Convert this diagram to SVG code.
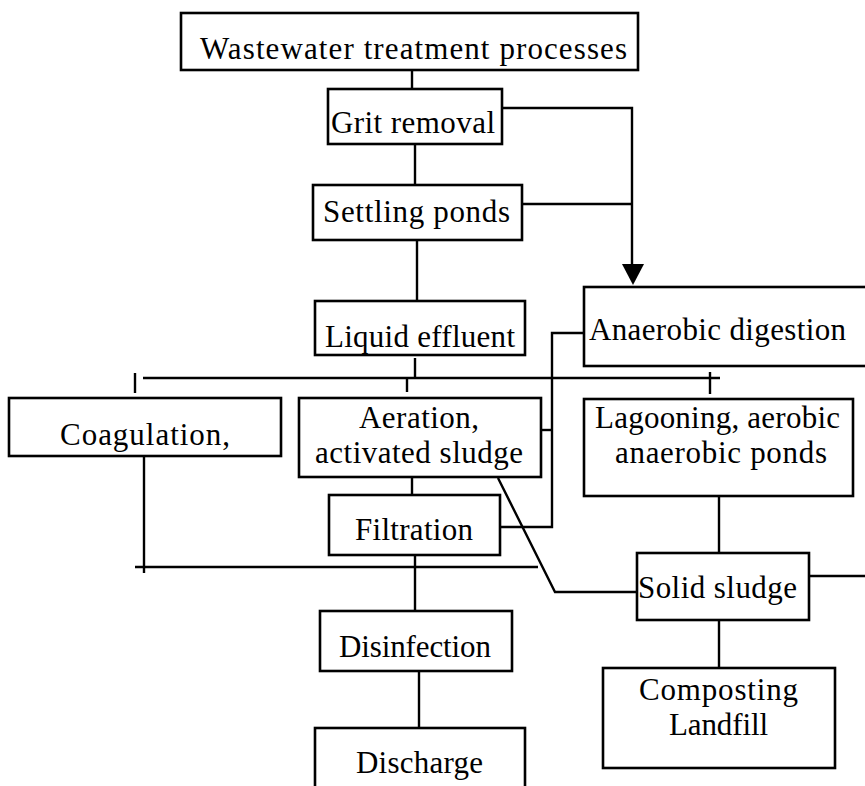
<svg xmlns="http://www.w3.org/2000/svg" width="865" height="786" viewBox="0 0 865 786">
<style>
.box{fill:#fff;stroke:#000;stroke-width:2.6}
.ln{fill:none;stroke:#000;stroke-width:2.4}
text{font-family:"Liberation Serif","Times New Roman",serif;font-size:31px;fill:#000}
</style>
<rect width="865" height="786" fill="#fff"/>
<g id="connectors">
  <line class="ln" x1="412" y1="70" x2="412" y2="89"/>
  <polyline class="ln" points="502,108 632,108 632,266"/>
  <polygon points="622,264 644,264 633,285" fill="#000"/>
  <line class="ln" x1="415" y1="144" x2="415" y2="185"/>
  <line class="ln" x1="522" y1="204" x2="632" y2="204"/>
  <line class="ln" x1="417" y1="240" x2="417" y2="301"/>
  <line class="ln" x1="415" y1="358" x2="415" y2="378"/>
  <line class="ln" x1="407" y1="378" x2="407" y2="392"/>
  <line class="ln" x1="143" y1="378" x2="720" y2="378"/>
  <line class="ln" x1="135" y1="373" x2="135" y2="393"/>
  <line class="ln" x1="710" y1="372" x2="710" y2="394"/>
  <polyline class="ln" points="584,333 552,333 552,527 500,527"/>
  <line class="ln" x1="535" y1="430" x2="552" y2="430"/>
  <line class="ln" x1="412" y1="477" x2="412" y2="495"/>
  <line class="ln" x1="144" y1="456" x2="144" y2="573"/>
  <line class="ln" x1="135" y1="567" x2="538" y2="567"/>
  <polyline class="ln" points="498,478 555,592 637,592"/>
  <line class="ln" x1="415" y1="555" x2="415" y2="611"/>
  <line class="ln" x1="419" y1="671" x2="419" y2="732"/>
  <line class="ln" x1="719" y1="496" x2="719" y2="553"/>
  <line class="ln" x1="809" y1="576" x2="865" y2="576"/>
  <line class="ln" x1="719" y1="610" x2="719" y2="668"/>
</g>
<g id="n-wastewater">
  <rect class="box" x="181" y="13" width="457" height="57"/>
  <text x="200" y="59" textLength="427" lengthAdjust="spacing">Wastewater treatment processes</text>
</g>
<g id="n-grit">
  <rect class="box" x="328" y="89" width="174" height="55"/>
  <text x="331" y="133" textLength="164" lengthAdjust="spacing">Grit removal</text>
</g>
<g id="n-settling">
  <rect class="box" x="313" y="185" width="209" height="55"/>
  <text x="323" y="222" textLength="187" lengthAdjust="spacing">Settling ponds</text>
</g>
<g id="n-liquid">
  <rect class="box" x="315" y="301" width="210" height="54"/>
  <text x="325" y="347" textLength="190" lengthAdjust="spacing">Liquid effluent</text>
</g>
<g id="n-anaerobic">
  <rect class="box" x="584" y="287" width="300" height="79"/>
  <text x="589" y="340" textLength="257" lengthAdjust="spacing">Anaerobic digestion</text>
</g>
<g id="n-coagulation">
  <rect class="box" x="9" y="398" width="272" height="58"/>
  <text x="60" y="445" textLength="170" lengthAdjust="spacing">Coagulation,</text>
</g>
<g id="n-aeration">
  <rect class="box" x="299" y="398" width="242" height="79"/>
  <text x="359" y="428" textLength="120" lengthAdjust="spacing">Aeration,</text>
  <text x="315" y="463" textLength="208" lengthAdjust="spacing">activated sludge</text>
</g>
<g id="n-lagooning">
  <rect class="box" x="584" y="399" width="269" height="97"/>
  <text x="595" y="428" textLength="245" lengthAdjust="spacing">Lagooning, aerobic</text>
  <text x="615" y="463" textLength="212" lengthAdjust="spacing">anaerobic ponds</text>
</g>
<g id="n-filtration">
  <rect class="box" x="329" y="495" width="171" height="60"/>
  <text x="355" y="540" textLength="118" lengthAdjust="spacing">Filtration</text>
</g>
<g id="n-solid">
  <rect class="box" x="637" y="553" width="172" height="67"/>
  <text x="638" y="598" textLength="159" lengthAdjust="spacing">Solid sludge</text>
</g>
<g id="n-disinfection">
  <rect class="box" x="320" y="611" width="192" height="60"/>
  <text x="339" y="657" textLength="152" lengthAdjust="spacing">Disinfection</text>
</g>
<g id="n-composting">
  <rect class="box" x="603" y="668" width="232" height="100"/>
  <text x="639" y="700" textLength="159" lengthAdjust="spacing">Composting</text>
  <text x="669" y="735" textLength="99" lengthAdjust="spacing">Landfill</text>
</g>
<g id="n-discharge">
  <rect class="box" x="315" y="728" width="210" height="80"/>
  <text x="356" y="773" textLength="127" lengthAdjust="spacing">Discharge</text>
</g>
</svg>
